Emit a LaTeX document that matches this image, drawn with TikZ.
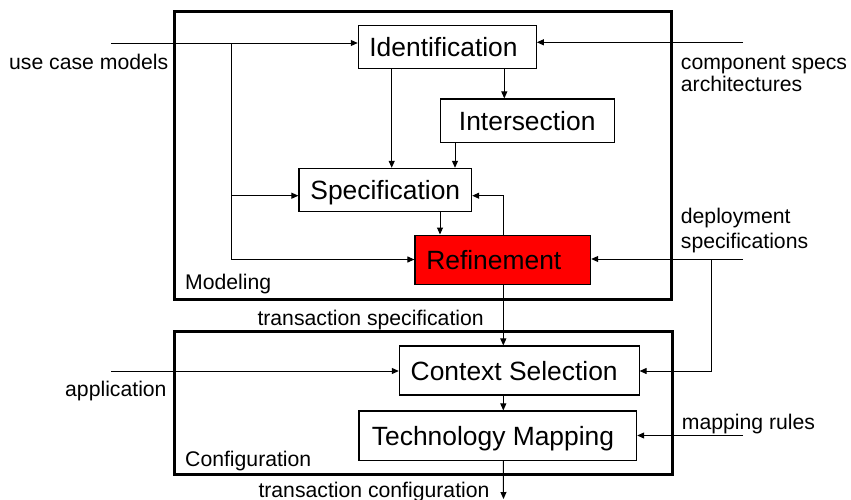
\documentclass[tikz,border=0pt]{standalone}
\usepackage{fontspec}
\setmainfont{Liberation Sans}
\usetikzlibrary{arrows.meta}
\definecolor{refred}{RGB}{255,0,0}
\begin{document}
\begin{tikzpicture}[x=1pt,y=-1pt,
  conn/.style={line width=1pt,-{Triangle[length=7pt,width=6pt]}},
  plain/.style={line width=1pt},
  frame/.style={draw,line width=3pt},
  stage/.style={draw,line width=1.1pt,inner sep=0pt,font=\fontsize{26.4}{30}\selectfont,
    text height=19pt,text depth=0pt},
  lbl/.style={inner sep=0pt,anchor=base west,font=\fontsize{21.2}{24}\selectfont}]
\useasboundingbox (0,0) rectangle (851,499);
% frames
\draw[frame] (174.5,11) rectangle (671.7,299);
\draw[frame] (174.5,331) rectangle (672,474.5);
% stages
\node[stage,minimum width=178pt,minimum height=42.6pt] (ident) at (447.3,47) {Identification\hspace*{7.6pt}};
\node[stage,minimum width=174.3pt,minimum height=43.7pt] (inters) at (527.2,120.8) {Intersection};
\node[stage,minimum width=172.7pt,minimum height=42.7pt] (spec) at (385.3,189.7) {Specification};
\node[stage,fill=refred,minimum width=175.7pt,minimum height=49.3pt] (ref) at (502.8,259.7) {Refinement\hspace*{18pt}};
\node[stage,minimum width=239.7pt,minimum height=49pt] (ctx) at (519.2,370.5) {Context Selection\hspace*{10pt}};
\node[stage,minimum width=277.7pt,minimum height=49.7pt] (tech) at (497.8,435.8) {Technology Mapping\hspace*{9.6pt}};
% labels
\node[lbl] (lucm) at (9,69.3) {use case models};
\node[lbl] (lcomp) at (680.7,69) {component specs};
\node[lbl] (larch) at (680.7,91.7) {architectures};
\node[lbl] (ldep) at (680.7,223.3) {deployment};
\node[lbl] (ldep2) at (680.7,248.3) {specifications};
\node[lbl] (lmod) at (185,289.3) {Modeling};
\node[lbl] (lts) at (257.3,325) {transaction specification};
\node[lbl] (lapp) at (65,396.5) {application};
\node[lbl] (lconf) at (185,466.5) {Configuration};
\node[lbl] (lmap) at (681.7,429.3) {mapping rules};
\node[lbl] (ltc) at (258.3,497) {transaction configuration};
% coordinates
\coordinate (ucm) at (111,43);
\coordinate (br) at (231,43);
\coordinate (comp) at (743,42.3);
\coordinate (dep) at (743,259);
\coordinate (dbr) at (711.7,259);
\coordinate (app) at (111,371);
\coordinate (map) at (743,435.5);
\coordinate (out) at (503.5,499);
% connectors
\draw[conn] (ucm) -- (ucm -| ident.west);
\draw[plain] (br) -- (231,259.5);
\draw[conn] (231,195.7) -- (spec.west |- 0,195.7);
\draw[conn] (231,259.5) -- (ref.west |- 0,259.5);
\draw[conn] (comp) -- (comp -| ident.east);
\draw[conn] (ident.south -| 391.7,0) -- (spec.north -| 391.7,0);
\draw[conn] (ident.south -| 504.3,0) -- (inters.north -| 504.3,0);
\draw[conn] (inters.south -| 455,0) -- (spec.north -| 455,0);
\draw[conn] (spec.south -| 440,0) -- (ref.north -| 440,0);
\draw[conn] (ref.north -| 503.3,0) -- (503.3,195.7) -- (spec.east |- 0,195.7);
\draw[conn] (dep) -- (ref.east |- dep);
\draw[conn] (dbr) -- (711.7,371) -- (ctx.east |- 0,371);
\draw[conn] (app) -- (app -| ctx.west);
\draw[conn] (ref.south -| 503.3,0) -- (ctx.north -| 503.3,0);
\draw[conn] (ctx.south -| 503.3,0) -- (tech.north -| 503.3,0);
\draw[conn] (map) -- (map -| tech.east);
\draw[conn] (tech.south -| 503.3,0) -- (out);
\end{tikzpicture}
\end{document}
